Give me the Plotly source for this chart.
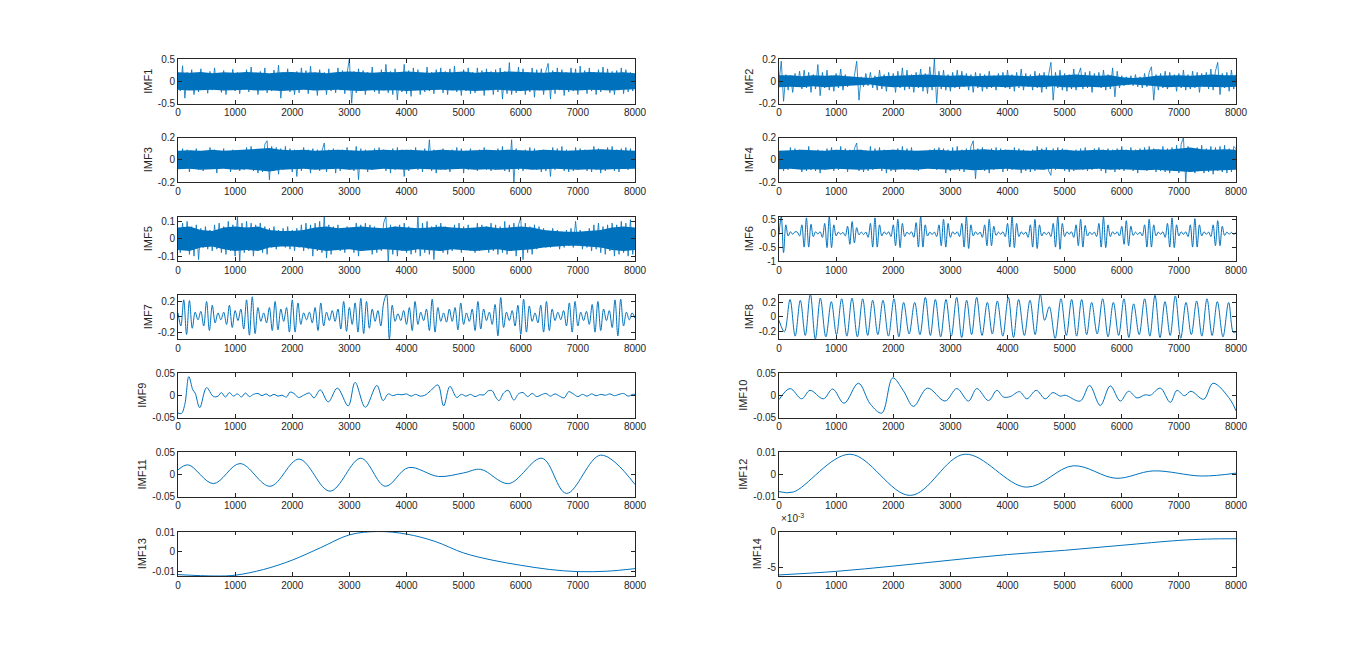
import numpy as np
import plotly.graph_objects as go

# ---------------- data ----------------
imf1 = [0.12,-0.22,0.35,-0.38,0.2,-0.15,0.26,-0.3,0.1,-0.24,
        0.28,-0.12,0.18,-0.27,0.22,-0.2,0.3,-0.16,0.08,-0.25,
        0.24,-0.3,0.15,-0.1,0.27,-0.22,0.2,-0.28,0.12,-0.18,
        0.26,-0.24,0.32,-0.14,0.18,-0.3,0.22,-0.2,0.3,-0.26,
        0.14,-0.22,0.25,-0.18,0.36,-0.38,0.2,-0.12,0.28,-0.24,
        0.16,-0.3,0.22,-0.26,0.3,-0.1,0.24,-0.28,0.34,-0.2,
        0.12,-0.32,0.26,-0.18,0.2,-0.3,0.28,-0.22,0.15,-0.26,
        0.3,-0.2,0.24,-0.28,0.18,0.5,-0.5,0.22,-0.26,0.28,
        -0.18,0.24,-0.3,0.2,-0.14,0.32,-0.24,0.18,-0.28,0.26,
        -0.2,0.38,-0.26,0.22,-0.3,0.28,-0.42,0.2,-0.24,0.38,
        -0.28,0.24,-0.34,0.3,-0.2,0.26,-0.3,0.18,-0.24,0.32,
        -0.22,0.2,-0.28,0.26,-0.16,0.3,-0.26,0.22,-0.3,0.28,
        -0.2,0.34,-0.24,0.18,-0.32,0.26,-0.22,0.3,-0.28,0.2,
        -0.26,0.3,-0.18,0.24,-0.32,0.28,-0.2,0.22,-0.3,0.26,
        -0.24,0.3,-0.4,0.22,-0.28,0.42,-0.3,0.2,-0.26,0.32,
        -0.22,0.28,-0.3,0.2,-0.24,0.3,-0.36,0.26,-0.2,0.28,
        -0.3,0.22,0.4,-0.4,0.24,-0.28,0.3,-0.2,0.26,-0.32,
        0.2,-0.24,0.3,-0.22,0.28,-0.3,0.34,-0.2,0.24,-0.28,
        0.3,-0.22,0.2,-0.3,0.26,-0.24,0.32,-0.18,0.28,-0.26,
        0.22,-0.3,0.24,-0.2,0.3,-0.28,0.26,-0.24,0.2,-0.22,
        0.15]
imf1_core_hi = [0.2,0.19,0.21,0.18,0.2,0.19,0.21,0.2,0.18,0.2,0.21,0.19,0.2,0.18,
                0.21,0.22,0.2,0.19,0.21,0.2,0.22,0.2,0.19,0.21,0.2,0.22,0.19,0.21,
                0.2,0.22,0.21,0.2,0.19,0.21,0.2,0.19,0.21,0.2,0.19,0.2,0.18]
imf1_core_lo = [-0.19,-0.21,-0.2,-0.19,-0.21,-0.2,-0.19,-0.21,-0.2,-0.22,-0.2,-0.19,
                -0.21,-0.2,-0.19,-0.21,-0.22,-0.2,-0.21,-0.2,-0.22,-0.21,-0.2,-0.19,
                -0.21,-0.2,-0.22,-0.2,-0.19,-0.21,-0.22,-0.2,-0.21,-0.19,-0.2,-0.21,
                -0.19,-0.2,-0.21,-0.19,-0.18]

imf2 = [0.0,0.18,-0.18,0.06,-0.08,0.05,-0.1,0.07,-0.05,0.09,
        -0.07,0.1,-0.06,0.08,-0.1,0.06,-0.07,0.15,-0.13,0.08,
        -0.06,0.1,-0.08,0.05,-0.09,0.07,-0.06,0.11,-0.08,0.06,
        -0.05,0.04,-0.03,0.05,0.18,-0.17,0.04,-0.05,0.07,-0.04,
        0.08,-0.06,0.05,-0.08,0.1,-0.07,0.06,-0.09,0.08,-0.05,
        0.07,-0.1,0.09,-0.06,0.12,-0.08,0.1,-0.07,0.06,-0.1,
        0.08,-0.06,0.11,-0.09,0.07,-0.11,0.13,-0.08,0.2,-0.2,
        0.09,-0.07,0.1,-0.08,0.06,-0.09,0.08,-0.06,0.1,-0.07,
        0.09,-0.05,0.07,-0.08,0.06,-0.1,0.08,-0.06,0.07,-0.09,
        0.06,-0.07,0.09,-0.06,0.05,-0.08,0.07,-0.05,0.08,-0.06,
        0.1,-0.07,0.06,-0.09,0.08,-0.06,0.11,-0.08,0.07,-0.05,
        0.06,-0.08,0.09,-0.06,0.07,-0.1,0.08,-0.07,0.06,0.17,
        -0.17,0.08,-0.06,0.1,-0.08,0.07,-0.09,0.06,-0.07,0.11,
        -0.08,0.06,0.12,-0.07,0.08,-0.06,0.09,-0.1,0.07,-0.05,
        0.08,-0.06,0.1,-0.08,0.06,-0.07,0.12,-0.14,0.09,-0.06,
        0.05,-0.04,0.04,-0.03,0.05,-0.04,0.06,-0.05,0.04,-0.06,
        0.07,-0.05,0.08,0.13,-0.17,0.06,-0.08,0.07,-0.06,0.09,
        -0.07,0.08,-0.05,0.06,-0.09,0.07,-0.06,0.1,-0.08,0.06,
        -0.07,0.09,-0.06,0.08,-0.1,0.07,-0.05,0.08,-0.07,0.11,
        -0.08,0.09,0.17,-0.12,0.07,-0.06,0.08,-0.09,0.1,-0.07,
        0.06]
imf2_core_hi = [0.055,0.055,0.045,0.055,0.05,0.055,0.045,0.035,0.03,0.045,0.05,0.055,0.055,0.06,
                0.055,0.05,0.055,0.045,0.05,0.055,0.055,0.05,0.045,0.055,0.05,0.055,0.06,0.055,
                0.05,0.055,0.035,0.03,0.035,0.05,0.055,0.055,0.05,0.055,0.06,0.055,0.055]
imf2_core_lo = [-0.055,-0.05,-0.055,-0.045,-0.055,-0.05,-0.04,-0.035,-0.03,-0.045,-0.055,-0.05,
                -0.055,-0.055,-0.05,-0.055,-0.05,-0.045,-0.055,-0.05,-0.055,-0.045,-0.05,-0.055,
                -0.045,-0.055,-0.055,-0.05,-0.055,-0.05,-0.035,-0.03,-0.035,-0.045,-0.055,-0.05,
                -0.055,-0.05,-0.055,-0.055,-0.05]

imf3 = [0.05,-0.08,0.1,-0.07,0.09,-0.11,0.08,-0.06,0.1,-0.09,
        0.07,-0.1,0.06,-0.08,0.11,-0.07,0.09,-0.12,0.08,-0.06,
        0.1,-0.08,0.07,-0.11,0.09,-0.06,0.08,-0.1,0.07,-0.09,
        0.11,-0.08,0.12,-0.1,0.09,-0.12,0.08,-0.11,0.14,0.17,
        -0.18,0.12,-0.1,0.11,-0.13,0.1,-0.09,0.12,-0.08,0.1,
        -0.11,0.09,-0.15,0.08,-0.1,0.11,-0.08,0.09,-0.12,0.1,
        -0.07,0.09,-0.1,0.08,0.15,-0.11,0.09,-0.08,0.1,-0.12,
        0.08,-0.1,0.09,-0.07,0.11,-0.09,0.08,-0.1,0.12,-0.18,
        0.1,-0.08,0.09,-0.11,0.07,-0.09,0.1,-0.08,0.11,-0.07,
        0.09,-0.1,0.08,-0.12,0.1,-0.09,0.11,-0.08,0.09,-0.15,
        0.08,-0.1,0.09,-0.07,0.11,-0.09,0.08,-0.11,0.1,-0.08,
        0.18,-0.1,0.09,-0.12,0.08,-0.07,0.1,-0.09,0.08,-0.11,
        0.09,-0.08,0.11,-0.07,0.1,-0.12,0.08,-0.09,0.1,-0.08,
        0.07,-0.1,0.09,-0.08,0.11,-0.09,0.08,-0.1,0.07,-0.09,
        0.1,-0.08,0.12,-0.1,0.09,-0.11,0.18,-0.2,0.1,-0.09,
        0.08,-0.1,0.09,-0.07,0.11,-0.08,0.1,-0.09,0.08,-0.11,
        0.09,-0.1,0.08,-0.15,0.11,-0.09,0.1,-0.08,0.12,-0.1,
        0.09,-0.11,0.08,-0.1,0.11,-0.09,0.1,-0.08,0.09,-0.1,
        0.08,-0.11,0.12,-0.09,0.1,-0.12,0.09,-0.1,0.11,-0.08,
        0.12,-0.1,0.09,-0.11,0.1,-0.08,0.11,-0.09,0.1,-0.07,
        0.02]
imf3_core_hi = [0.08,0.085,0.08,0.09,0.08,0.085,0.09,0.095,0.105,0.09,0.085,0.09,0.08,0.085,
                0.09,0.085,0.08,0.085,0.09,0.085,0.09,0.085,0.08,0.09,0.085,0.08,0.085,0.09,
                0.085,0.09,0.085,0.08,0.09,0.085,0.08,0.085,0.09,0.095,0.09,0.085,0.08]
imf3_core_lo = [-0.085,-0.08,-0.09,-0.085,-0.08,-0.09,-0.085,-0.095,-0.105,-0.09,-0.085,-0.08,
                -0.09,-0.085,-0.08,-0.09,-0.085,-0.09,-0.08,-0.085,-0.09,-0.08,-0.085,-0.09,
                -0.085,-0.08,-0.09,-0.085,-0.09,-0.085,-0.08,-0.09,-0.085,-0.08,-0.085,-0.09,
                -0.085,-0.09,-0.085,-0.08,-0.08]

imf4 = [-0.05,0.08,-0.1,0.07,-0.09,0.11,-0.08,0.1,-0.07,0.09,
        -0.11,0.08,-0.1,0.12,-0.09,0.07,-0.1,0.09,-0.12,0.08,
        -0.09,0.1,-0.07,0.11,-0.1,0.08,-0.09,0.12,-0.08,0.1,
        -0.11,0.09,-0.08,0.1,0.15,-0.1,0.09,-0.11,0.08,-0.1,
        0.12,-0.09,0.1,-0.08,0.11,-0.1,0.09,-0.12,0.08,-0.1,
        0.09,-0.11,0.1,-0.08,0.12,-0.09,0.1,-0.07,0.11,-0.09,
        0.08,-0.1,0.06,-0.07,0.08,-0.06,0.09,-0.08,0.1,-0.09,
        0.11,-0.08,0.1,-0.12,0.09,-0.1,0.11,-0.09,0.12,-0.1,
        0.09,-0.11,0.1,-0.08,0.12,0.17,-0.17,0.1,-0.09,0.11,
        -0.1,0.08,-0.12,0.1,-0.09,0.11,-0.08,0.1,-0.11,0.09,
        -0.1,0.08,-0.09,0.11,-0.08,0.1,-0.12,0.09,-0.1,0.08,
        -0.11,0.09,-0.1,0.12,-0.08,0.1,-0.09,0.11,-0.1,-0.14,
        0.1,-0.09,0.11,-0.08,0.1,-0.1,0.09,-0.11,0.08,-0.1,
        0.09,-0.08,0.1,-0.09,0.11,-0.1,0.08,-0.09,0.1,-0.08,
        0.11,-0.1,0.09,-0.12,0.1,-0.08,0.09,-0.11,0.1,-0.09,
        0.12,-0.1,0.09,-0.08,0.11,-0.1,0.09,-0.12,0.1,-0.09,
        0.11,-0.1,0.12,-0.09,0.1,-0.11,0.09,-0.1,0.12,-0.11,
        0.1,-0.12,0.11,-0.1,0.13,-0.12,0.14,0.2,-0.2,0.12,
        -0.11,0.1,-0.12,0.11,-0.1,0.13,-0.12,0.1,-0.11,0.12,
        -0.13,0.11,-0.1,0.12,-0.11,0.13,-0.12,0.1,-0.11,0.12,
        0.1]
imf4_core_hi = [0.08,0.085,0.09,0.085,0.08,0.09,0.085,0.09,0.08,0.085,0.09,0.085,0.08,0.085,
                0.09,0.08,0.085,0.09,0.095,0.085,0.09,0.085,0.08,0.09,0.085,0.09,0.08,0.085,
                0.09,0.085,0.09,0.085,0.09,0.095,0.09,0.1,0.11,0.095,0.09,0.095,0.09]
imf4_core_lo = [-0.085,-0.08,-0.09,-0.085,-0.09,-0.08,-0.085,-0.09,-0.085,-0.08,-0.09,-0.085,
                -0.09,-0.08,-0.085,-0.09,-0.085,-0.095,-0.09,-0.085,-0.08,-0.09,-0.085,-0.09,
                -0.08,-0.085,-0.09,-0.085,-0.08,-0.09,-0.085,-0.09,-0.095,-0.09,-0.095,-0.1,
                -0.11,-0.1,-0.095,-0.09,-0.09]

imf5 = [0.02,-0.08,0.09,-0.06,0.1,-0.09,0.07,-0.1,0.08,-0.12,
        0.06,-0.05,0.07,-0.06,0.05,-0.07,0.08,-0.06,0.09,-0.08,
        0.07,-0.09,0.1,-0.07,0.08,-0.1,0.13,-0.13,0.09,-0.08,
        0.1,-0.07,0.09,-0.1,0.08,-0.06,0.09,-0.08,0.07,-0.09,
        0.06,-0.05,0.07,-0.06,0.05,-0.04,0.06,-0.05,0.07,-0.06,
        0.05,-0.07,0.06,-0.05,0.08,-0.07,0.09,-0.06,0.08,-0.1,
        0.09,-0.07,0.1,-0.08,0.13,-0.11,0.08,-0.09,0.07,-0.06,
        0.08,-0.07,0.06,-0.08,0.07,-0.05,0.06,-0.08,0.09,-0.1,
        0.08,-0.07,0.09,-0.06,0.08,-0.09,0.07,-0.08,0.06,-0.07,
        0.09,0.13,-0.13,0.08,-0.09,0.07,-0.1,0.08,-0.07,0.09,
        -0.08,0.07,-0.09,0.06,-0.08,0.13,-0.1,0.09,-0.08,0.1,
        -0.09,0.07,-0.12,0.08,-0.07,0.09,-0.08,0.07,-0.09,0.06,
        -0.07,0.08,-0.06,0.09,-0.08,0.07,-0.05,0.08,-0.07,0.06,
        -0.08,0.09,-0.07,0.08,-0.06,0.07,-0.08,0.09,-0.07,0.08,
        -0.09,0.07,-0.08,0.1,-0.09,0.08,-0.07,0.09,-0.1,0.08,
        0.12,-0.12,0.09,-0.08,0.07,-0.09,0.08,-0.06,0.07,-0.05,
        0.06,-0.05,0.04,-0.05,0.06,-0.04,0.05,-0.06,0.04,-0.05,
        0.05,-0.04,0.06,-0.05,0.1,-0.04,0.05,-0.06,0.04,-0.05,
        0.06,-0.07,0.08,-0.06,0.09,-0.08,0.07,-0.09,0.08,-0.07,
        0.09,-0.1,0.08,-0.09,0.1,-0.08,0.09,-0.1,0.11,-0.09,
        0.05]
imf5_core_hi = [0.065,0.07,0.05,0.045,0.065,0.07,0.065,0.07,0.05,0.045,0.045,0.05,0.065,0.07,
                0.06,0.065,0.07,0.065,0.06,0.07,0.065,0.06,0.065,0.07,0.065,0.06,0.065,0.07,
                0.06,0.065,0.07,0.065,0.05,0.045,0.04,0.04,0.045,0.05,0.065,0.07,0.065]
imf5_core_lo = [-0.065,-0.07,-0.05,-0.045,-0.06,-0.07,-0.065,-0.07,-0.05,-0.045,-0.045,-0.05,
                -0.06,-0.07,-0.065,-0.06,-0.07,-0.065,-0.06,-0.065,-0.07,-0.06,-0.065,-0.07,
                -0.06,-0.065,-0.07,-0.065,-0.06,-0.07,-0.065,-0.06,-0.05,-0.045,-0.04,-0.04,
                -0.045,-0.05,-0.065,-0.07,-0.065]

imf6 = [-0.05,0.6,-0.7,0.3,-0.1,0.05,-0.04,0.05,0.04,-0.1,
        0.3,-0.5,0.55,-0.5,0.32,-0.12,0.05,-0.03,0.05,-0.15,
        0.35,-0.52,0.6,-0.52,0.3,-0.1,0.04,-0.04,0.03,-0.1,
        0.25,-0.4,0.42,-0.35,0.2,-0.06,0.04,-0.05,0.04,-0.15,
        0.35,-0.5,0.55,-0.5,0.3,-0.1,0.05,-0.04,0.05,-0.12,
        0.3,-0.45,0.5,-0.52,0.35,-0.12,0.04,-0.04,0.05,-0.15,
        0.38,-0.5,0.6,-0.5,0.3,-0.1,0.04,-0.05,0.04,-0.12,
        0.3,-0.45,0.5,-0.5,0.35,-0.15,0.05,-0.04,0.05,-0.12,
        0.35,-0.5,0.6,-0.55,0.3,-0.1,0.05,-0.05,0.04,-0.15,
        0.3,-0.45,0.5,-0.45,0.25,-0.08,0.04,-0.04,0.05,-0.12,
        0.35,-0.5,0.6,-0.52,0.35,-0.12,0.05,-0.04,0.04,-0.15,
        0.3,-0.5,0.5,-0.55,0.3,-0.1,0.04,-0.05,0.04,-0.12,
        0.35,-0.5,0.6,-0.58,0.35,-0.12,0.05,-0.04,0.05,-0.15,
        0.3,-0.45,0.5,-0.5,0.28,-0.1,0.04,-0.05,0.04,-0.12,
        0.35,-0.5,0.58,-0.52,0.3,-0.12,0.05,-0.04,0.05,-0.1,
        0.25,-0.4,0.45,-0.45,0.25,-0.08,0.04,-0.05,0.04,-0.1,
        0.3,-0.5,0.5,-0.5,0.3,-0.1,0.04,-0.04,0.05,-0.15,
        0.35,-0.5,0.55,-0.52,0.3,-0.1,0.05,-0.04,0.05,-0.12,
        0.3,-0.5,0.52,-0.5,0.3,-0.1,0.05,-0.04,0.04,-0.12,
        0.3,-0.45,0.45,-0.45,0.25,-0.08,0.04,-0.04,0.03,-0.04,
        0.02]

imf7 = [0.05,-0.12,0.22,-0.23,0.21,-0.15,0.06,-0.04,0.07,-0.12,
        0.2,-0.18,0.15,-0.08,0.05,-0.04,0.06,-0.1,0.15,-0.14,
        0.08,-0.05,0.1,-0.16,0.22,-0.24,0.26,-0.22,0.12,-0.06,
        0.05,-0.08,0.12,-0.18,0.2,-0.17,0.1,-0.06,0.12,-0.2,
        0.22,-0.2,0.18,-0.1,0.05,-0.04,0.06,-0.08,0.12,-0.18,
        0.18,-0.12,0.06,-0.05,0.08,-0.06,0.1,-0.16,0.2,-0.19,
        0.12,-0.1,0.18,-0.2,0.24,-0.22,0.2,-0.15,0.1,-0.06,
        0.08,-0.12,0.18,0.29,-0.29,0.15,-0.06,0.04,-0.05,0.08,
        -0.1,0.12,-0.18,0.2,-0.1,0.06,-0.05,0.1,-0.18,0.23,
        -0.2,0.12,-0.06,0.05,-0.07,0.1,-0.06,0.12,-0.17,0.18,
        -0.1,0.05,-0.06,0.1,-0.18,0.2,-0.16,0.1,-0.05,0.06,
        -0.1,0.16,-0.25,0.25,-0.14,0.06,-0.05,0.08,-0.12,0.15,
        -0.23,0.23,-0.2,0.14,-0.06,0.05,-0.08,0.15,-0.2,0.2,
        -0.18,0.1,-0.05,0.06,-0.04,0.08,-0.12,0.18,-0.2,0.2,
        -0.12,0.06,-0.05,0.07,-0.1,0.16,-0.2,0.2,-0.18,0.1,
        -0.05,0.08,-0.14,0.22,-0.25,0.23,-0.12,0.06,-0.04,0.05,
        -0.02]

imf8_x = [0, 95, 193, 283, 373, 460, 548, 636, 724, 820, 916, 1006, 1097, 1188,
          1278, 1372, 1465, 1552, 1640, 1730, 1820, 1916, 2013, 2098, 2182, 2278,
          2375, 2468, 2562, 2650, 2737, 2830, 2923, 3016, 3110, 3198, 3285, 3372,
          3460, 3554, 3647, 3734, 3822, 3918, 4015, 4105, 4195, 4295, 4394, 4484,
          4575, 4650, 4732, 4834, 4936, 5030, 5123, 5210, 5298, 5386, 5473, 5570,
          5666, 5760, 5853, 5946, 6039, 6124, 6208, 6305, 6401, 6492, 6582, 6670,
          6757, 6848, 6938, 7032, 7125, 7218, 7311, 7402, 7492, 7582, 7673, 7772,
          7871, 7955, 8000]
imf8_y = [-0.05, -0.21, 0.24, -0.27, 0.23, -0.26, 0.32, -0.31, 0.26, -0.28,
          0.21, -0.25, 0.25, -0.27, 0.26, -0.28, 0.25, -0.26, 0.23, -0.25,
          0.23, -0.27, 0.25, -0.28, 0.2, -0.24, 0.2, -0.25, 0.27, -0.26,
          0.24, -0.28, 0.24, -0.27, 0.27, -0.29, 0.23, -0.25, 0.27, -0.26,
          0.2, -0.24, 0.22, -0.27, 0.27, -0.29, 0.24, -0.26, 0.23, -0.25,
          0.31, -0.05, 0.14, -0.3, 0.25, -0.26, 0.24, -0.27, 0.24, -0.25,
          0.2, -0.24, 0.25, -0.28, 0.2, -0.26, 0.25, -0.29, 0.18, -0.25,
          0.25, -0.27, 0.3, -0.29, 0.21, -0.26, 0.29, -0.3, 0.2, -0.25,
          0.22, -0.27, 0.25, -0.26, 0.21, -0.28, 0.2, -0.22, -0.21]

imf9_x = [0, 60, 120, 190, 260, 300, 380, 500, 620, 700, 760, 830, 900, 970, 1040,
          1110, 1180, 1250, 1320, 1400, 1470, 1540, 1610, 1680, 1750, 1820, 1900,
          1960, 2030, 2110, 2200, 2300, 2380, 2490, 2630, 2790, 2980, 3100, 3280,
          3480, 3590, 3680, 3760, 3840, 3920, 4000, 4080, 4160, 4240, 4320, 4420,
          4550, 4650, 4760, 4880, 4960, 5040, 5120, 5200, 5280, 5360, 5430, 5500,
          5560, 5620, 5700, 5780, 5880, 5960, 6040, 6120, 6200, 6280, 6360, 6440,
          6520, 6600, 6680, 6760, 6840, 6920, 7000, 7080, 7160, 7240, 7320, 7400,
          7480, 7560, 7640, 7720, 7800, 7880, 7960, 8000]
imf9_y = [-0.040, -0.041, -0.02, 0.042, 0.012, 0.005, -0.028, 0.017, -0.003, -0.002,
          0.006, -0.004, 0.006, -0.002, 0.003, -0.004, 0.005, -0.003, 0.002, 0.004,
          -0.001, 0.003, -0.002, 0.002, -0.002, 0.0, -0.004, 0.007, 0.004, -0.005,
          0.0, 0.005, -0.006, 0.012, -0.015, 0.016, -0.024, 0.029, -0.027, 0.022,
          -0.012, 0.003, -0.001, 0.002, 0.001, 0.003, -0.002, 0.002, -0.002, 0.0,
          0.01, 0.023, -0.024, 0.02, -0.005, 0.002, -0.002, 0.002, -0.003, 0.001,
          0.001, 0.01, 0.01, -0.004, -0.012, 0.005, 0.011, -0.011, 0.003, 0.006,
          -0.003, 0.004, -0.003, 0.001, 0.004, -0.002, 0.003, -0.002, -0.006, 0.008,
          0.003, -0.003, 0.002, -0.002, 0.003, -0.001, 0.002, 0.0, 0.003, -0.001,
          0.002, 0.004, -0.002, 0.002, 0.002]

imf10_x = [0, 193, 397, 543, 777, 940, 1139, 1390, 1600, 1799, 1991, 2178, 2353,
           2599, 2908, 3113, 3317, 3463, 3668, 3814, 3930, 4047, 4211, 4339, 4503,
           4660, 4795, 4923, 5011, 5273, 5437, 5624, 5799, 5974, 6120, 6266, 6412,
           6500, 6675, 6850, 6967, 7096, 7212, 7434, 7600, 7900, 8000]
imf10_y = [-0.01, 0.015, -0.008, 0.011, -0.008, 0.014, -0.018, 0.027, -0.02, -0.04,
           0.039, 0.01, -0.025, 0.016, -0.013, 0.015, -0.013, 0.015, -0.012, 0.011,
           -0.004, -0.003, 0.008, -0.008, 0.011, -0.008, 0.006, -0.002, 0.0, -0.013,
           0.022, -0.023, 0.021, -0.013, 0.009, -0.006, 0.001, 0.0, 0.016, -0.016,
           0.011, -0.001, 0.009, -0.009, 0.027, -0.01, -0.035]

imf11_x = [0, 181, 619, 1086, 1612, 2120, 2660, 3200, 3627, 4035, 4560, 5000,
           5300, 5787, 6371, 6800, 7400, 8000]
imf11_y = [0.010, 0.021, -0.021, 0.024, -0.027, 0.034, -0.038, 0.036, -0.027,
           0.015, -0.005, 0.003, 0.011, -0.021, 0.036, -0.043, 0.043, -0.023]

imf12_x = [0, 250, 1240, 2300, 3250, 4330, 5150, 5900, 6550, 7400, 8000]
imf12_y = [-0.0078, -0.008, 0.009, -0.0095, 0.009, -0.0058, 0.0038, -0.0018,
           0.0015, -0.0008, 0.0005]

imf13_x = [0, 650, 1000, 1500, 2000, 2500, 3000, 3500, 4000, 4500, 5000, 5500,
           6000, 6500, 7000, 7500, 8000]
imf13_y = [-0.0114, -0.0121, -0.0117, -0.0088, -0.0041, 0.0022, 0.0086, 0.0103,
           0.0090, 0.0053, -0.0005, -0.0041, -0.0067, -0.0088, -0.0099, -0.0097,
           -0.0084]

imf14_x = [0, 1000, 2000, 3000, 4000, 5000, 6000, 7000, 7500, 8000]
imf14_y = [-0.0061, -0.0056, -0.00486, -0.00403, -0.00324, -0.00264, -0.00194,
           -0.00125, -0.00106, -0.00102]

x_ticks = [0, 1000, 2000, 3000, 4000, 5000, 6000, 7000, 8000]
x_ticklabels = ["0", "1000", "2000", "3000", "4000", "5000", "6000", "7000", "8000"]

# name, x, y, yrange, ytickvals, yticktext, shape, core band (hi, lo)
panels = [
    ("IMF1", None, imf1, [-0.5, 0.5], [-0.5, 0, 0.5], ["-0.5", "0", "0.5"], "linear", (imf1_core_hi, imf1_core_lo)),
    ("IMF2", None, imf2, [-0.2, 0.2], [-0.2, 0, 0.2], ["-0.2", "0", "0.2"], "linear", (imf2_core_hi, imf2_core_lo)),
    ("IMF3", None, imf3, [-0.2, 0.2], [-0.2, 0, 0.2], ["-0.2", "0", "0.2"], "linear", (imf3_core_hi, imf3_core_lo)),
    ("IMF4", None, imf4, [-0.2, 0.2], [-0.2, 0, 0.2], ["-0.2", "0", "0.2"], "linear", (imf4_core_hi, imf4_core_lo)),
    ("IMF5", None, imf5, [-0.128, 0.128], [-0.1, 0, 0.1], ["-0.1", "0", "0.1"], "linear", (imf5_core_hi, imf5_core_lo)),
    ("IMF6", None, imf6, [-1, 0.6], [-1, -0.5, 0, 0.5], ["-1", "-0.5", "0", "0.5"], "spline", None),
    ("IMF7", None, imf7, [-0.29, 0.29], [-0.2, 0, 0.2], ["-0.2", "0", "0.2"], "spline", None),
    ("IMF8", imf8_x, imf8_y, [-0.31, 0.31], [-0.2, 0, 0.2], ["-0.2", "0", "0.2"], "spline", None),
    ("IMF9", imf9_x, imf9_y, [-0.05, 0.05], [-0.05, 0, 0.05], ["-0.05", "0", "0.05"], "spline", None),
    ("IMF10", imf10_x, imf10_y, [-0.05, 0.05], [-0.05, 0, 0.05], ["-0.05", "0", "0.05"], "spline", None),
    ("IMF11", imf11_x, imf11_y, [-0.05, 0.05], [-0.05, 0, 0.05], ["-0.05", "0", "0.05"], "spline", None),
    ("IMF12", imf12_x, imf12_y, [-0.01, 0.01], [-0.01, 0, 0.01], ["-0.01", "0", "0.01"], "spline", None),
    ("IMF13", imf13_x, imf13_y, [-0.0121, 0.0103], [-0.01, 0, 0.01], ["-0.01", "0", "0.01"], "spline", None),
    ("IMF14", imf14_x, imf14_y, [-0.00625, 0], [-0.005, 0], ["-5", "0"], "spline", None),
]

# ---------------- layout ----------------
W, H = 1366, 650
col_left = [(178, 635), (779, 1236)]
row_tops = [59, 137.5, 216.5, 294.5, 373, 452, 531.5]
row_h = 44.5

BLUE = "#0072BD"
AX = "#262626"
FONT = "Liberation Sans, Arial, sans-serif"

fig = go.Figure()
layout = dict(
    width=W, height=H, margin=dict(l=0, r=0, t=0, b=0, autoexpand=False),
    paper_bgcolor="white", plot_bgcolor="white", showlegend=False,
    font=dict(family=FONT, size=10, color=AX),
)

for i, (name, xs, ys, yr, ytv, ytt, shape, core) in enumerate(panels):
    r, c = i // 2, i % 2
    k = i + 1
    xa = "xaxis" if k == 1 else f"xaxis{k}"
    ya = "yaxis" if k == 1 else f"yaxis{k}"
    xref = "x" if k == 1 else f"x{k}"
    yref = "y" if k == 1 else f"y{k}"
    if xs is None:
        xs = np.linspace(0, 8000, len(ys))
    if core is not None:
        hi, lo = core
        cx = np.linspace(0, 8000, len(hi))
        fig.add_trace(go.Scatter(x=cx, y=lo, mode="lines", xaxis=xref, yaxis=yref,
                                 line=dict(width=0, color=BLUE), hoverinfo="skip"))
        fig.add_trace(go.Scatter(x=cx, y=hi, mode="lines", xaxis=xref, yaxis=yref,
                                 line=dict(width=0, color=BLUE), fill="tonexty",
                                 fillcolor=BLUE, hoverinfo="skip"))
    fig.add_trace(go.Scatter(
        x=xs, y=ys, mode="lines", xaxis=xref, yaxis=yref,
        line=dict(color=BLUE, width=0.8 if shape == "linear" else 1.0, shape=shape),
        hoverinfo="skip",
    ))
    x0, x1 = col_left[c]
    top = row_tops[r]
    bot = top + row_h
    layout[xa] = dict(
        domain=[x0 / W, x1 / W], range=[0, 8000], anchor=yref, automargin=False,
        tickmode="array", tickvals=x_ticks, ticktext=x_ticklabels,
        ticks="inside", ticklen=4, tickwidth=0.8, tickcolor=AX,
        showline=True, linecolor=AX, linewidth=0.8, mirror="ticks",
        showgrid=False, zeroline=False,
        tickfont=dict(family=FONT, size=10, color=AX),
    )
    layout[ya] = dict(
        domain=[1 - bot / H, 1 - top / H], range=yr, anchor=xref, automargin=False,
        tickmode="array", tickvals=ytv, ticktext=ytt,
        ticks="inside", ticklen=4, tickwidth=0.8, tickcolor=AX,
        showline=True, linecolor=AX, linewidth=0.8, mirror="ticks",
        showgrid=False, zeroline=False,
        tickfont=dict(family=FONT, size=10, color=AX),
        title=dict(text=name, font=dict(family=FONT, size=11, color=AX), standoff=3),
    )

fig.update_layout(**layout)
fig.add_annotation(
    x=779 / W, y=1 - 518 / H, xref="paper", yref="paper",
    text="×10<sup>-3</sup>", showarrow=False, xanchor="left", yanchor="middle",
    font=dict(family=FONT, size=10, color=AX),
)

fig.write_html("out.html", config={"displayModeBar": False},
               post_script="document.body.style.margin='0px';")
